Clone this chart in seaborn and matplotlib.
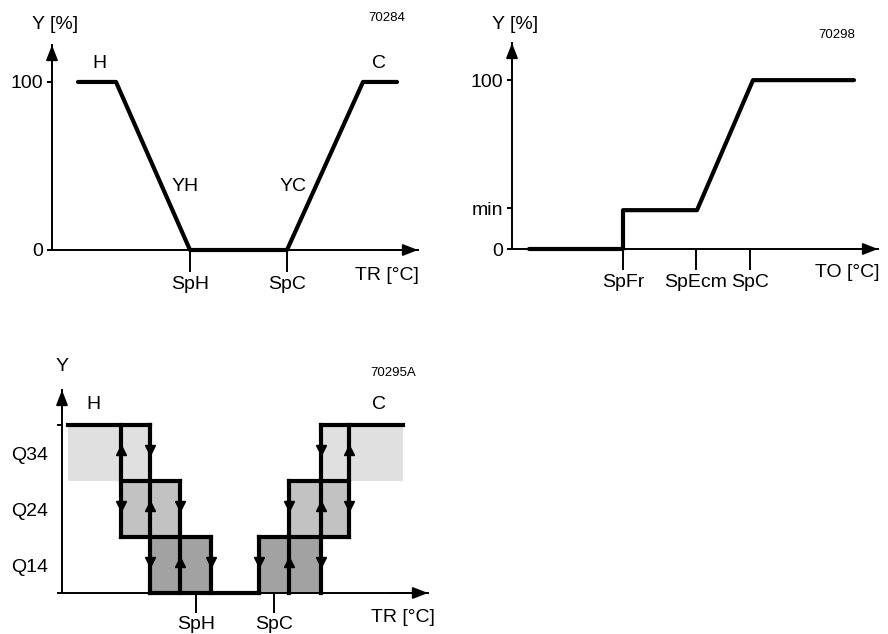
import seaborn as sns
import matplotlib.pyplot as plt

# panel 1 (70284): heating / cooling sequence
seq_temp = [2.6, 6.4, 13.8, 23.5, 31.1, 34.5]
seq_y = [100, 100, 0, 0, 100, 100]
seq_xticks = [13.8, 23.5]
seq_xlabels = ['SpH', 'SpC']
seq_yticks = [0, 100]
seq_ylabels = ['0', '100']

# panel 2 (70298): economizer damper
eco_temp = [1.7, 11.1, 11.1, 18.5, 24.1, 34.2]
eco_y = [0, 0, 23, 23, 100, 100]
eco_xticks = [11.1, 18.4, 23.8]
eco_xlabels = ['SpFr', 'SpEcm', 'SpC']
eco_yticks = [0, 24, 100]
eco_ylabels = ['0', 'min', '100']

# panel 3 (70295A): staged outputs Q14 / Q24 / Q34
stage_levels = [0.5, 1.5, 2.5]
stage_labels = ['Q14', 'Q24', 'Q34']
stage_xticks = [13.4, 21.2]
stage_xlabels = ['SpH', 'SpC']
band_left = [0.6, 5.9, 8.8, 19.7, 22.7, 25.9]
band_right = [8.8, 11.8, 14.9, 25.9, 28.7, 34.1]
band_level = [2, 1, 0, 0, 1, 2]
band_color = ['#e0e0e0', '#c2c2c2', '#a2a2a2', '#a2a2a2', '#c2c2c2', '#e0e0e0']
horiz_y = [3, 2, 1, 0, 3, 2, 1]
horiz_x0 = [0.6, 5.9, 5.9, 8.8, 25.9, 22.7, 19.7]
horiz_x1 = [8.8, 11.8, 14.9, 19.7, 34.1, 28.7, 28.7]
vert_x = [5.9, 8.8, 11.8, 14.9, 19.7, 22.7, 25.9, 28.7]
vert_y0 = [1, 0, 0, 0, 0, 0, 0, 1]
vert_y1 = [3, 3, 2, 1, 1, 2, 3, 3]
arrow_x = [5.9, 8.8, 5.9, 8.8, 11.8, 8.8, 11.8, 14.9,
           25.9, 28.7, 22.7, 25.9, 28.7, 19.7, 22.7, 25.9]
arrow_y = [2.5, 2.5, 1.5, 1.5, 1.5, 0.5, 0.5, 0.5,
           2.5, 2.5, 1.5, 1.5, 1.5, 0.5, 0.5, 0.5]
arrow_dir = ['^', 'v', 'v', '^', 'v', 'v', '^', 'v',
             'v', '^', 'v', '^', 'v', 'v', '^', 'v']

sns.set_style('ticks')
plt.rcParams['font.family'] = ['Liberation Sans', 'DejaVu Sans']
for key in ['axes.edgecolor', 'xtick.color', 'ytick.color', 'text.color',
            'xtick.labelcolor', 'ytick.labelcolor']:
    plt.rcParams[key] = 'black'

W, H = 888, 634
fig = plt.figure(figsize=(W / 100, H / 100), dpi=100)

THICK = 3.0
AX_LW = 1.4
FS = 14


def make_axes(x0, y_top, x1, y_bottom, xmax, ymax):
    ax = fig.add_axes([x0 / W, 1 - y_bottom / H, (x1 - x0) / W, (y_bottom - y_top) / H])
    ax.set_xlim(0, xmax)
    ax.set_ylim(0, ymax)
    sns.despine(ax=ax)
    for s in ['left', 'bottom']:
        ax.spines[s].set_linewidth(AX_LW)
    ax.tick_params(which='both', width=AX_LW, labelsize=FS, color='black')
    arrow = dict(arrowstyle='-|>,head_length=0.9,head_width=0.35', color='black',
                 lw=AX_LW, shrinkA=0, shrinkB=0)
    ax.annotate('', xy=(0, 1), xycoords='axes fraction', xytext=(0, 0.9), arrowprops=arrow)
    ax.annotate('', xy=(1, 0), xycoords='axes fraction', xytext=(0.9, 0), arrowprops=arrow)
    return ax


# ---- panel 1
ax1 = make_axes(52, 45, 418, 250, 36.6, 122)
sns.lineplot(x=seq_temp, y=seq_y, sort=False, estimator=None, ax=ax1, color='black', lw=THICK)
for ln in ax1.lines:
    ln.set_clip_on(False)
ax1.set_xticks(seq_xticks, seq_xlabels)
ax1.set_yticks(seq_yticks, seq_ylabels)
ax1.tick_params(axis='x', length=16, pad=3)
ax1.tick_params(axis='y', length=3.6, pad=3)
ax1.text(0.3, 134, 'Y [%]', fontsize=FS, ha='center', va='center', clip_on=False)
ax1.text(33.5, 138, '70284', fontsize=9.5, ha='center', va='center', clip_on=False)
ax1.text(4.7, 111, 'H', fontsize=FS, ha='center', va='center')
ax1.text(32.7, 111, 'C', fontsize=FS, ha='center', va='center')
ax1.text(13.3, 37.5, 'YH', fontsize=FS, ha='center', va='center')
ax1.text(24.1, 37.5, 'YC', fontsize=FS, ha='center', va='center')
ax1.text(33.5, -15, 'TR [°C]', fontsize=FS, ha='center', va='center', clip_on=False)

# ---- panel 2
ax2 = make_axes(512, 43, 878, 249, 36.6, 122)
sns.lineplot(x=eco_temp, y=eco_y, sort=False, estimator=None, ax=ax2, color='black', lw=THICK)
for ln in ax2.lines:
    ln.set_clip_on(False)
ax2.set_xticks(eco_xticks, eco_xlabels)
ax2.set_yticks(eco_yticks, eco_ylabels)
ax2.tick_params(axis='x', length=15, pad=3)
ax2.tick_params(axis='y', length=3.6, pad=3)
ax2.text(0.3, 133, 'Y [%]', fontsize=FS, ha='center', va='center', clip_on=False)
ax2.text(32.5, 127, '70298', fontsize=9.5, ha='center', va='center', clip_on=False)
ax2.text(33.5, -14, 'TO [°C]', fontsize=FS, ha='center', va='center', clip_on=False)

# ---- panel 3
ax3 = make_axes(62, 390, 428, 593, 36.6, 3.625)
ax3.bar(band_left, 1, width=[r - l for l, r in zip(band_left, band_right)],
        bottom=band_level, align='edge', color=band_color, lw=0, zorder=1)
for y, xa, xb in zip(horiz_y, horiz_x0, horiz_x1):
    ax3.plot([xa, xb], [y, y], color='black', lw=THICK, solid_capstyle='projecting',
             zorder=3, clip_on=False)
for x, ya, yb in zip(vert_x, vert_y0, vert_y1):
    ax3.plot([x, x], [ya, yb], color='black', lw=THICK, solid_capstyle='projecting',
             zorder=3, clip_on=False)
for x, y, m in zip(arrow_x, arrow_y, arrow_dir):
    ax3.plot(x, y + 0.05, marker=m, ms=7, color='black', ls='none', zorder=4)
ax3.set_xticks(stage_xticks, stage_xlabels)
ax3.set_yticks([0, 3], ['', ''])
ax3.set_yticks(stage_levels, stage_labels, minor=True)
ax3.tick_params(axis='x', length=14.4, pad=2)
ax3.tick_params(axis='y', which='major', length=3.6)
ax3.tick_params(axis='y', which='minor', length=0, pad=10, labelsize=FS)
ax3.text(0, 4.04, 'Y', fontsize=FS, ha='center', va='center', clip_on=False)
ax3.text(33.1, 3.93, '70295A', fontsize=9.5, ha='center', va='center', clip_on=False)
ax3.text(3.1, 3.36, 'H', fontsize=FS, ha='center', va='center')
ax3.text(31.7, 3.36, 'C', fontsize=FS, ha='center', va='center')
ax3.text(34.1, -0.43, 'TR [°C]', fontsize=FS, ha='center', va='center', clip_on=False)

fig.savefig('out.png', dpi=100)
